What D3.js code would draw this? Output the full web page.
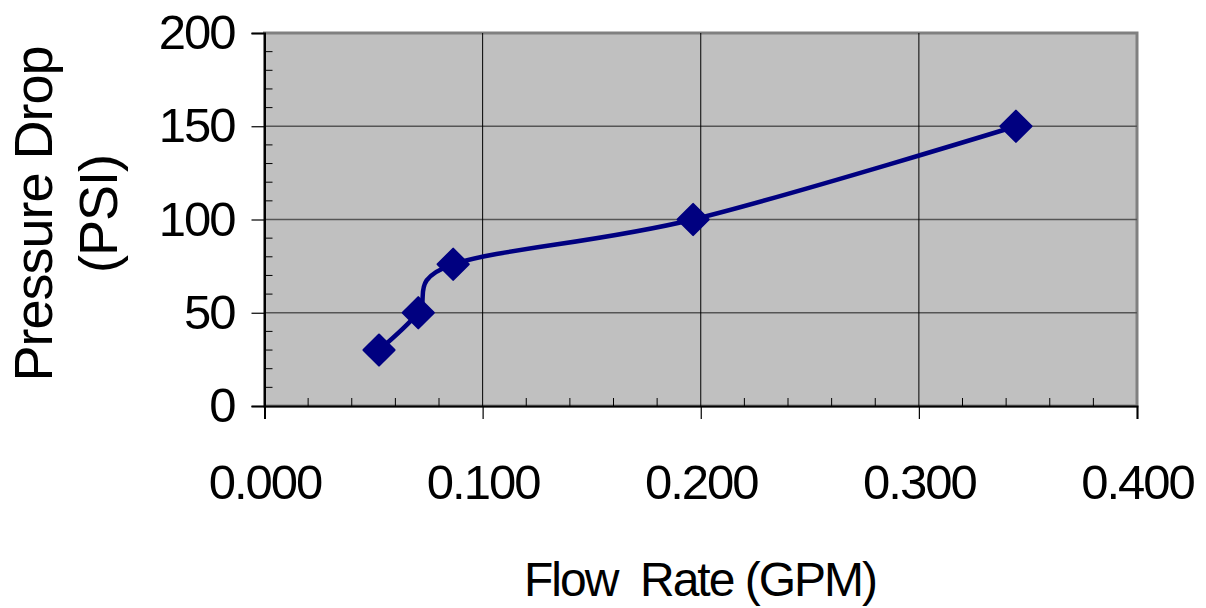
<!DOCTYPE html>
<html>
<head>
<meta charset="utf-8">
<script src="https://cdn.jsdelivr.net/npm/d3@7"></script>
<style>
  html, body { margin: 0; padding: 0; background: #fff; }
  svg { display: block; font-family: "Liberation Sans", Arial, sans-serif; }
</style>
</head>
<body>
<svg id="chart" width="1206" height="608"></svg>
<script>
// Flow rate (GPM) vs pressure drop (PSI)
const flowRate = [0.0525, 0.0705, 0.0865, 0.1965, 0.3445];
const pressureDrop = [30, 50, 76, 100, 150];
const xTickValues = [0, 0.1, 0.2, 0.3, 0.4];
const yTickValues = [0, 50, 100, 150, 200];
const xTitle = "Flow  Rate (GPM)";
const yTitleLines = ["Pressure Drop", "(PSI)"];

const svg = d3.select("#chart");
const plot = { left: 264.5, right: 1137, top: 33, bottom: 406 };

const x = d3.scaleLinear().domain([0, 0.4]).range([plot.left, plot.right]);
const y = d3.scaleLinear().domain([0, 200]).range([plot.bottom, plot.top]);

// plot area background and frame
svg.append("rect")
  .attr("x", plot.left).attr("y", plot.top)
  .attr("width", plot.right - plot.left).attr("height", plot.bottom - plot.top)
  .attr("fill", "#c0c0c0")
  .attr("stroke", "#808080").attr("stroke-width", 3);

// horizontal gridlines
svg.append("g").selectAll("line")
  .data(yTickValues.filter(v => v > 0 && v < 200))
  .join("line")
  .attr("x1", plot.left).attr("x2", plot.right)
  .attr("y1", d => y(d)).attr("y2", d => y(d))
  .attr("stroke", "#555").attr("stroke-width", 1.6);

// vertical gridlines
svg.append("g").selectAll("line")
  .data(xTickValues.filter(v => v > 0 && v < 0.4))
  .join("line")
  .attr("x1", d => x(d)).attr("x2", d => x(d))
  .attr("y1", plot.top).attr("y2", plot.bottom)
  .attr("stroke", "#000").attr("stroke-width", 1);

// minor ticks inside the plot
const yMinor = d3.range(0, 201, 10).filter(v => v % 50 !== 0);
svg.append("g").selectAll("line")
  .data(yMinor).join("line")
  .attr("x1", plot.left).attr("x2", plot.left + 8)
  .attr("y1", d => y(d)).attr("y2", d => y(d))
  .attr("stroke", "#000").attr("stroke-width", 1);
const xMinor = d3.range(0, 0.4001, 0.02).filter(v => Math.abs(v * 10 - Math.round(v * 10)) > 1e-6);
svg.append("g").selectAll("line")
  .data(xMinor).join("line")
  .attr("x1", d => x(d)).attr("x2", d => x(d))
  .attr("y1", plot.bottom).attr("y2", plot.bottom - 8)
  .attr("stroke", "#000").attr("stroke-width", 1);

// axes with outward major ticks
const yAxis = d3.axisLeft(y).tickValues(yTickValues).tickSize(13).tickPadding(17)
  .tickFormat(d3.format("d"));
const gy = svg.append("g").attr("transform", `translate(${plot.left},0)`).call(yAxis);
gy.select(".domain").attr("stroke", "#000").attr("stroke-width", 2);
gy.selectAll(".tick line").attr("stroke", "#000").attr("stroke-width", 1.2);
gy.selectAll(".tick text")
  .attr("font-size", 49).attr("fill", "#000").attr("letter-spacing", -2)
  .attr("font-family", "'Liberation Sans', Arial, sans-serif");

const xAxis = d3.axisBottom(x).tickValues(xTickValues).tickSize(13).tickPadding(45)
  .tickFormat(d3.format(".3f"));
const gx = svg.append("g").attr("transform", `translate(0,${plot.bottom})`).call(xAxis);
gx.select(".domain").attr("stroke", "#000").attr("stroke-width", 2);
gx.selectAll(".tick line").attr("stroke", "#000").attr("stroke-width", 1.2);
gx.selectAll(".tick text")
  .attr("font-size", 49).attr("fill", "#000").attr("letter-spacing", -2)
  .attr("font-family", "'Liberation Sans', Arial, sans-serif");

// smoothed data line
const pts = flowRate.map((f, i) => [f, pressureDrop[i]]);
const line = d3.line()
  .x(d => x(d[0])).y(d => y(d[1]))
  .curve(d3.curveCardinal.tension(0));
svg.append("path")
  .datum(pts)
  .attr("d", line)
  .attr("fill", "none")
  .attr("stroke", "#000080").attr("stroke-width", 4.5)
  .attr("stroke-linejoin", "round");

// diamond markers
const diamond = d3.symbol().type(d3.symbolDiamond2).size(620);
svg.append("g").selectAll("path")
  .data(pts).join("path")
  .attr("transform", d => `translate(${x(d[0])},${y(d[1])})`)
  .attr("d", diamond)
  .attr("fill", "#000080")
  .attr("stroke", "#000080").attr("stroke-width", 2).attr("stroke-linejoin", "round");

// axis titles
svg.append("text")
  .attr("x", 700).attr("y", 596)
  .attr("text-anchor", "middle")
  .attr("font-size", 48).attr("letter-spacing", -2)
  .style("white-space", "pre")
  .attr("fill", "#000")
  .text(xTitle);

const yTitle = svg.append("text")
  .attr("transform", "translate(0,214) rotate(-90)")
  .attr("text-anchor", "middle")
  .attr("font-size", 54).attr("letter-spacing", -1)
  .attr("fill", "#000");
yTitle.selectAll("tspan")
  .data(yTitleLines).join("tspan")
  .attr("x", 0)
  .attr("y", (d, i) => 52 + i * 65)
  .text(d => d);
</script>
</body>
</html>
